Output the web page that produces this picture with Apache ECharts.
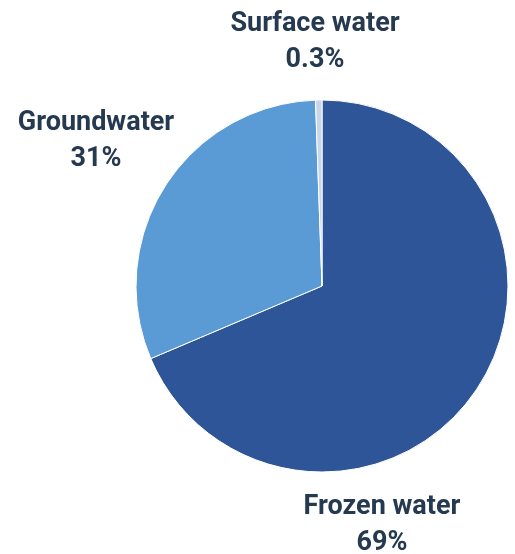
<!DOCTYPE html>
<html>
<head>
    <meta charset="utf-8">
    <title>Water distribution</title>
    <script src="https://cdn.jsdelivr.net/npm/echarts@6/dist/echarts.min.js"></script>
    <style>
      body { padding: 0; margin: 0; background: #fff; }
      #main { width: 515px; height: 554px; }
    </style>
</head>
<body>
  <div id="main"></div>
  <script type="text/javascript">
    var names = ['Frozen water', 'Groundwater', 'Surface water']
    var values = [69, 31, 0.3]
    var shares = ['69%', '31%', '0.3%']
    var colors = ['#2e5597', '#5b9bd5', '#c8d6ea']
    // label centre points, in pixels
    var labelPos = [[382, 525], [96, 141], [315, 42]]

    var myChart = echarts.init(document.getElementById('main'))
    var data = names.map(function (n, i) {
      return { name: n, value: values[i], share: shares[i], itemStyle: { color: colors[i] } }
    })

    myChart.setOption({
      animation: false,
      series: [{
        type: 'pie',
        center: [322, 286],
        radius: 186,
        startAngle: 90,
        clockwise: true,
        minAngle: 2,
        avoidLabelOverlap: false,
        data: data,
        itemStyle: { borderColor: '#fff', borderWidth: 1 },
        label: {
          show: true,
          position: 'outside',
          formatter: function (p) { return p.name + '\n' + p.data.share },
          fontFamily: 'Roboto',
          fontWeight: 'bold',
          fontSize: 27,
          lineHeight: 36,
          color: '#253a50',
          align: 'center',
          overflow: 'none'
        },
        labelLine: { show: false },
        labelLayout: function (p) {
          return {
            x: labelPos[p.dataIndex][0],
            y: labelPos[p.dataIndex][1],
            align: 'center',
            verticalAlign: 'middle'
          }
        }
      }]
    })
  </script>
</body>
</html>
